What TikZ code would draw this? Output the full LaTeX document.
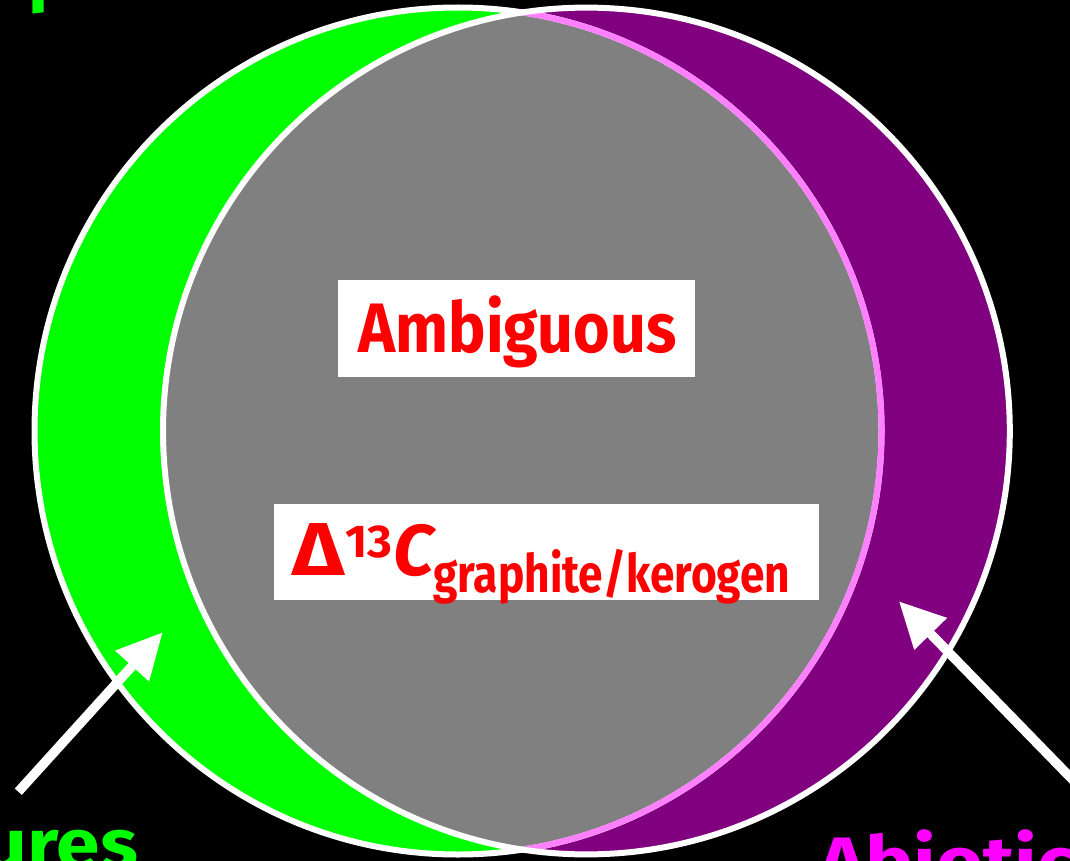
\documentclass[tikz,border=0pt]{standalone}
\usepackage{fontspec}
\usepackage{graphicx}
\usetikzlibrary{arrows.meta}
\newfontfamily\cfont{Fira Sans}
\definecolor{vgreen}{HTML}{00FF00}
\definecolor{vpurple}{HTML}{800080}
\definecolor{vgray}{HTML}{808080}
\definecolor{vpink}{HTML}{FF80FF}
\definecolor{vmag}{HTML}{FF00FF}
\definecolor{vred}{HTML}{FF0000}
\tikzset{
  lbl/.style={inner sep=0pt, font=\cfont\bfseries\fontsize{70}{80}\selectfont},
  whitebox/.style={fill=white, inner sep=0pt},
  bigarrow/.style={draw=white, line width=9.5pt, -{Triangle[length=45pt,width=46pt,line width=0pt]}},
  ring/.style={line width=6pt},
}
\newcommand\fitw[2]{\resizebox{#1}{\height}{#2}}
\begin{document}
\begin{tikzpicture}[x=1pt,y=-1pt]
\useasboundingbox (0,0) rectangle (1070,861);
\clip (0,0) rectangle (1070,861);
\fill[black] (0,0) rectangle (1070,861);
\coordinate (cl) at (458,431);
\coordinate (cr) at (586.4,431);
\fill[vgreen] (cl) circle[radius=423.5];
\fill[vpurple] (cr) circle[radius=423.4];
\begin{scope}
  \clip (cl) circle[radius=423.5];
  \fill[vgray] (cr) circle[radius=423.4];
\end{scope}
\draw[ring, white] (cl) circle[radius=423.5];
\draw[ring, vpink] (cl) ++(-81.28:423.5) arc[start angle=-81.28, end angle=81.28, radius=423.5];
\draw[ring, white] (cr) circle[radius=423.4];

% boxes and labels
\node[whitebox, minimum width=357pt, minimum height=97pt] (ambbox) at (516.5,328.5) {};
\node[lbl, text=vred, anchor=base] (amb) at (517.5,352) {\fitw{318pt}{Ambiguous}};

\node[whitebox, minimum width=545pt, minimum height=96pt] (dbox) at (546.5,552) {};
\node[lbl, text=vred, anchor=base west, font=\cfont\bfseries\fontsize{75}{80}\selectfont] (delta) at (292,575) {\fitw{52pt}{Δ}};
\node[lbl, text=vred, anchor=base west, font=\cfont\bfseries\fontsize{46}{50}\selectfont] (thirteen) at (345,557) {\fitw{47pt}{13}};
\node[lbl, text=vred, anchor=base west, font=\cfont\bfseries\itshape\fontsize{72}{80}\selectfont] (cee) at (393,575) {C};
\node[lbl, text=vred, anchor=base west, font=\cfont\bfseries\fontsize{53}{60}\selectfont] (sub) at (433,592) {\fitw{357pt}{graphite/kerogen}};

% outer (cut-off) labels
\node[lbl, text=vgreen, anchor=base west] (prod) at (28,-1) {\fitw{290pt}{products}};
\node[lbl, text=vgreen, anchor=base east] (struct) at (138,868) {\scalebox{1.12}[1]{structures}};
\node[lbl, text=vmag, anchor=base west] (abio) at (818,886) {\scalebox{1.15}[1]{Abiotic}};
\node[lbl, text=vmag, anchor=base west] (abiotop) at (895,-1) {\scalebox{0.9}[1]{Abiotic}};

% arrows
\coordinate (lt) at (18.3,791.7);
\coordinate (lh) at (162.3,632.7);
\draw[bigarrow] (lt) -- (lh);
\coordinate (rt) at (1090,797.5);
\coordinate (rh) at (899.3,601.7);
\draw[bigarrow] (rt) -- (rh);
\end{tikzpicture}
\end{document}
